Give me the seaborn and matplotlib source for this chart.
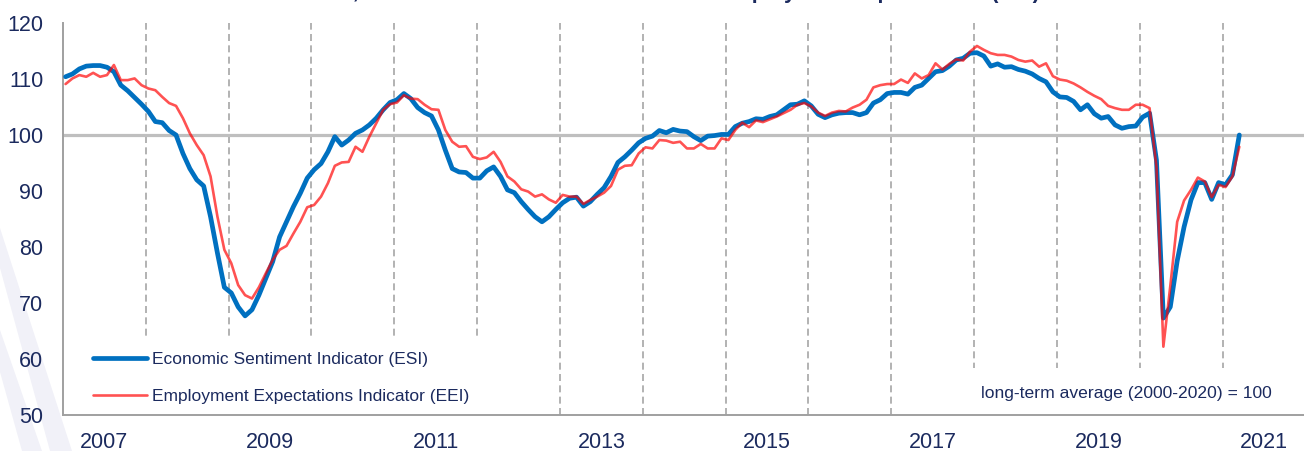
import numpy as np
import pandas as pd
import matplotlib
matplotlib.use("Agg")
import matplotlib.pyplot as plt
import seaborn as sns
from matplotlib.patches import Polygon

# ---------------- data (monthly, Jan 2007 - Mar 2021) ----------------
start_year = 2007
esi = [110.4, 110.9, 111.8, 112.3, 112.4, 112.4, 112.1, 111.3, 108.9, 107.9, 106.7, 105.5,
       104.2, 102.4, 102.2, 100.8, 100.0, 96.7, 94.0, 92.0, 90.9, 85.4, 78.9, 72.8,
       71.8, 69.3, 67.7, 68.8, 71.4, 74.4, 77.4, 81.8, 84.5, 87.2, 89.6, 92.3,
       93.8, 94.9, 97.0, 99.7, 98.2, 99.1, 100.3, 100.9, 101.8, 103.0, 104.5, 105.8,
       106.3, 107.4, 106.5, 104.9, 104.0, 103.4, 100.9, 97.3, 94.0, 93.4, 93.3, 92.3,
       92.3, 93.6, 94.3, 92.6, 90.2, 89.7, 88.1, 86.7, 85.4, 84.5, 85.4, 86.7,
       87.9, 88.7, 88.9, 87.3, 88.1, 89.4, 90.6, 92.6, 95.1, 96.1, 97.3, 98.6,
       99.4, 99.8, 100.8, 100.4, 101.0, 100.7, 100.6, 99.7, 99.0, 99.8, 99.9, 100.1,
       100.1, 101.5, 102.1, 102.4, 102.9, 102.8, 103.3, 103.6, 104.5, 105.4, 105.5, 106.1,
       105.2, 103.7, 103.1, 103.6, 103.9, 104.0, 104.0, 103.6, 104.0, 105.7, 106.3, 107.4,
       107.6, 107.6, 107.3, 108.5, 108.9, 110.1, 111.3, 111.5, 112.3, 113.4, 113.7, 114.6,
       114.7, 114.1, 112.3, 112.7, 112.1, 112.2, 111.7, 111.4, 110.9, 110.1, 109.5, 107.7,
       106.8, 106.7, 106.0, 104.5, 105.4, 103.8, 103.0, 103.3, 101.8, 101.2, 101.5, 101.6,
       103.2, 103.9, 95.5, 67.3, 69.3, 77.5, 83.6, 88.4, 91.5, 91.5, 88.5, 91.5,
       91.1, 92.9, 100.0]
eei = [109.1, 110.1, 110.7, 110.4, 111.1, 110.4, 110.7, 112.5, 109.8, 109.8, 110.1, 108.9,
       108.3, 108.0, 106.8, 105.7, 105.2, 103.0, 100.3, 98.2, 96.4, 92.6, 85.4, 79.5,
       77.1, 73.2, 71.4, 70.8, 72.8, 75.3, 77.7, 79.5, 80.2, 82.4, 84.5, 87.1,
       87.5, 89.0, 91.4, 94.5, 95.1, 95.2, 97.9, 97.0, 99.7, 102.1, 104.5, 105.5,
       105.8, 107.1, 106.5, 106.4, 105.4, 104.6, 104.5, 100.9, 98.8, 97.9, 98.0, 96.1,
       95.7, 96.0, 97.0, 95.2, 92.6, 91.7, 90.3, 89.9, 89.0, 89.4, 88.5, 87.9,
       89.3, 89.0, 89.0, 87.7, 88.4, 89.0, 89.7, 90.9, 93.8, 94.5, 94.6, 96.7,
       97.8, 97.6, 99.1, 99.0, 98.6, 98.8, 97.6, 97.6, 98.4, 97.6, 97.6, 99.4,
       99.1, 100.9, 102.2, 101.4, 102.6, 102.3, 102.8, 103.3, 103.9, 104.5, 105.4, 105.7,
       105.1, 104.0, 103.4, 104.0, 104.3, 104.2, 104.9, 105.4, 106.3, 108.5, 108.9, 109.1,
       109.1, 109.9, 109.3, 111.0, 110.1, 110.7, 112.8, 111.7, 112.7, 113.5, 113.3, 114.9,
       115.9, 115.2, 114.6, 114.3, 114.3, 114.0, 113.4, 113.1, 113.3, 112.2, 112.8, 110.5,
       109.9, 109.7, 109.2, 108.5, 107.7, 107.0, 106.4, 105.2, 104.8, 104.5, 104.5, 105.4,
       105.4, 104.8, 94.3, 62.2, 73.0, 84.5, 88.3, 90.2, 92.4, 91.7, 88.9, 91.1,
       90.7, 92.6, 97.9]
y_ticks = [50, 60, 70, 80, 90, 100, 110, 120]
x_label_years = [2007, 2009, 2011, 2013, 2015, 2017, 2019, 2021]
year_lines = list(range(2008, 2022))
series_labels = ["Economic Sentiment Indicator (ESI)",
                 "Employment Expectations Indicator (EEI)"]
note_text = "long-term average (2000-2020) = 100"
title_text = "EU, economic sentiment indicator and employment expectations (EEI)"

# ---------------- style ----------------
NAVY = "#1b2a5e"
BLUE = "#0070c0"
sns.set_theme(style="white")
plt.rcParams["font.family"] = ["Liberation Sans", "DejaVu Sans"]

W, H = 1304, 451
fig = plt.figure(figsize=(W / 100, H / 100), dpi=100)
fig.patch.set_facecolor("white")

# faint watermark stripes (bottom-left), behind everything
def px(pts):
    return [(x / W, 1 - y / H) for x, y in pts]
for pts in ([(0, 228), (0, 268), (50, 451), (72, 451)],
            [(0, 330), (0, 372), (22, 451), (42, 451)]):
    fig.patches.append(Polygon(px(pts), closed=True, transform=fig.transFigure,
                               facecolor="#f1f1f8", edgecolor="none", zorder=0))

ax = fig.add_axes([62.8 / W, (H - 415) / H, (1305.6 - 62.8) / W, 392 / H])
ax.set_facecolor("none")
ax.set_zorder(1)

n = len(esi)
t = start_year + (np.arange(n) + 0.4) / 12
df = pd.DataFrame({"t": t, "ESI": esi, "EEI": eei})

for yr in year_lines:
    ax.axvline(yr, color="#a6a6a6", lw=1.2, ls=(0, (4.2, 2.6)), zorder=1)
ax.axhline(100, color="#bfbfbf", lw=2.3, zorder=1.5)

sns.lineplot(data=df, x="t", y="ESI", ax=ax, color=BLUE, lw=3.4,
             label=series_labels[0], zorder=3)
sns.lineplot(data=df, x="t", y="EEI", ax=ax, color="red", alpha=0.68, lw=1.9,
             label=series_labels[1], zorder=4)

ax.set_xlim(2007, 2022)
ax.set_ylim(50, 120)
ax.set_yticks(y_ticks)
ax.set_xticks([y + 0.5 for y in x_label_years])
ax.set_xticklabels([str(y) for y in x_label_years])
ax.set_xlabel("")
ax.set_ylabel("")
ax.tick_params(axis="y", length=0, pad=14, labelsize=15.5, labelcolor=NAVY)
ax.tick_params(axis="x", length=0, pad=12, labelsize=15.5, labelcolor=NAVY)
for s in ["top", "right"]:
    ax.spines[s].set_visible(False)
for s in ["left", "bottom"]:
    ax.spines[s].set_color("#a0a0a0")
    ax.spines[s].set_linewidth(1.4)
    ax.spines[s].set_zorder(2.5)

leg = ax.legend(loc="lower left", bbox_to_anchor=(0.0146, -0.002), frameon=True,
                fontsize=12.5, handlelength=3.1, handletextpad=0.3,
                labelspacing=1.24, borderpad=0.7, borderaxespad=0, fancybox=False)
leg.get_frame().set_facecolor("white")
leg.get_frame().set_edgecolor("none")
leg.get_frame().set_alpha(1)
leg.set_zorder(2)
for txt in leg.get_texts():
    txt.set_color(NAVY)

ax.text(0.8555, 0.056, note_text, transform=ax.transAxes, ha="center", va="center",
        fontsize=12.6, color=NAVY, zorder=2,
        bbox=dict(boxstyle="square,pad=1.0", fc="white", ec="none"))

fig.text(1040 / W, 1 + 1.5 / H, title_text, ha="right", va="baseline",
         fontsize=15.5, fontweight="bold", color=NAVY)

fig.savefig("out.png", dpi=100)
